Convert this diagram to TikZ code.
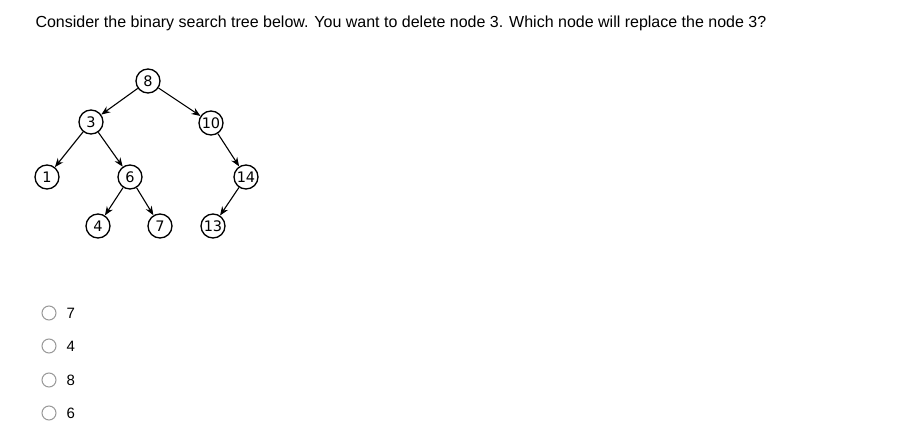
\documentclass[tikz,border=0pt]{standalone}
\usepackage{fontspec}
\setmainfont{Liberation Sans}
\newfontfamily\treefont{DejaVu Sans}
\usetikzlibrary{arrows.meta}
\tikzset{
  bst/.style={draw,circle,line width=1.3pt,minimum size=24pt,inner sep=0pt,font=\treefont\fontsize{14.5}{14.5}\selectfont},
  edge/.style={line width=1.1pt,-{Stealth[length=9pt,width=7pt]}},
  radio/.style={draw=gray!80,circle,minimum size=14pt,inner sep=0pt,line width=1pt},
  answer/.style={anchor=west,font=\fontsize{15}{15}\selectfont}
}
\begin{document}
\begin{tikzpicture}[x=1pt,y=-1pt]
        \useasboundingbox[fill=white] (0,0) rectangle (898,444);
        \node[anchor=base west,font=\fontsize{16}{16}\selectfont] (question) at (32,28)
            {Consider the binary search tree below. You want to delete node 3. Which node will replace the node 3?};
        % the tree
        \node[bst] (n8) at (148,81) {8};
        \node[bst] (n3) at (91,122) {3};
        \node[bst] (n10) at (211,123) {10};
        \node[bst] (n1) at (47,177) {1};
        \node[bst] (n6) at (130,177) {6};
        \node[bst] (n14) at (246,177) {14};
        \node[bst] (n4) at (98,226) {4};
        \node[bst] (n7) at (160,226) {7};
        \node[bst] (n13) at (213,226) {13};
        \draw[edge] (n8) -- (n3);
        \draw[edge] (n8) -- (n10);
        \draw[edge] (n3) -- (n1);
        \draw[edge] (n3) -- (n6);
        \draw[edge] (n10) -- (n14);
        \draw[edge] (n6) -- (n4);
        \draw[edge] (n6) -- (n7);
        \draw[edge] (n14) -- (n13);
        % the answers
        \node[radio] (r1) at (49,313) {};
        \node[answer] (a1) at (63,313) {7};
        \node[radio] (r2) at (49,346) {};
        \node[answer] (a2) at (63,346) {4};
        \node[radio] (r3) at (49,380) {};
        \node[answer] (a3) at (63,380) {8};
        \node[radio] (r4) at (49,413) {};
        \node[answer] (a4) at (63,413) {6};
\end{tikzpicture}
\end{document}
